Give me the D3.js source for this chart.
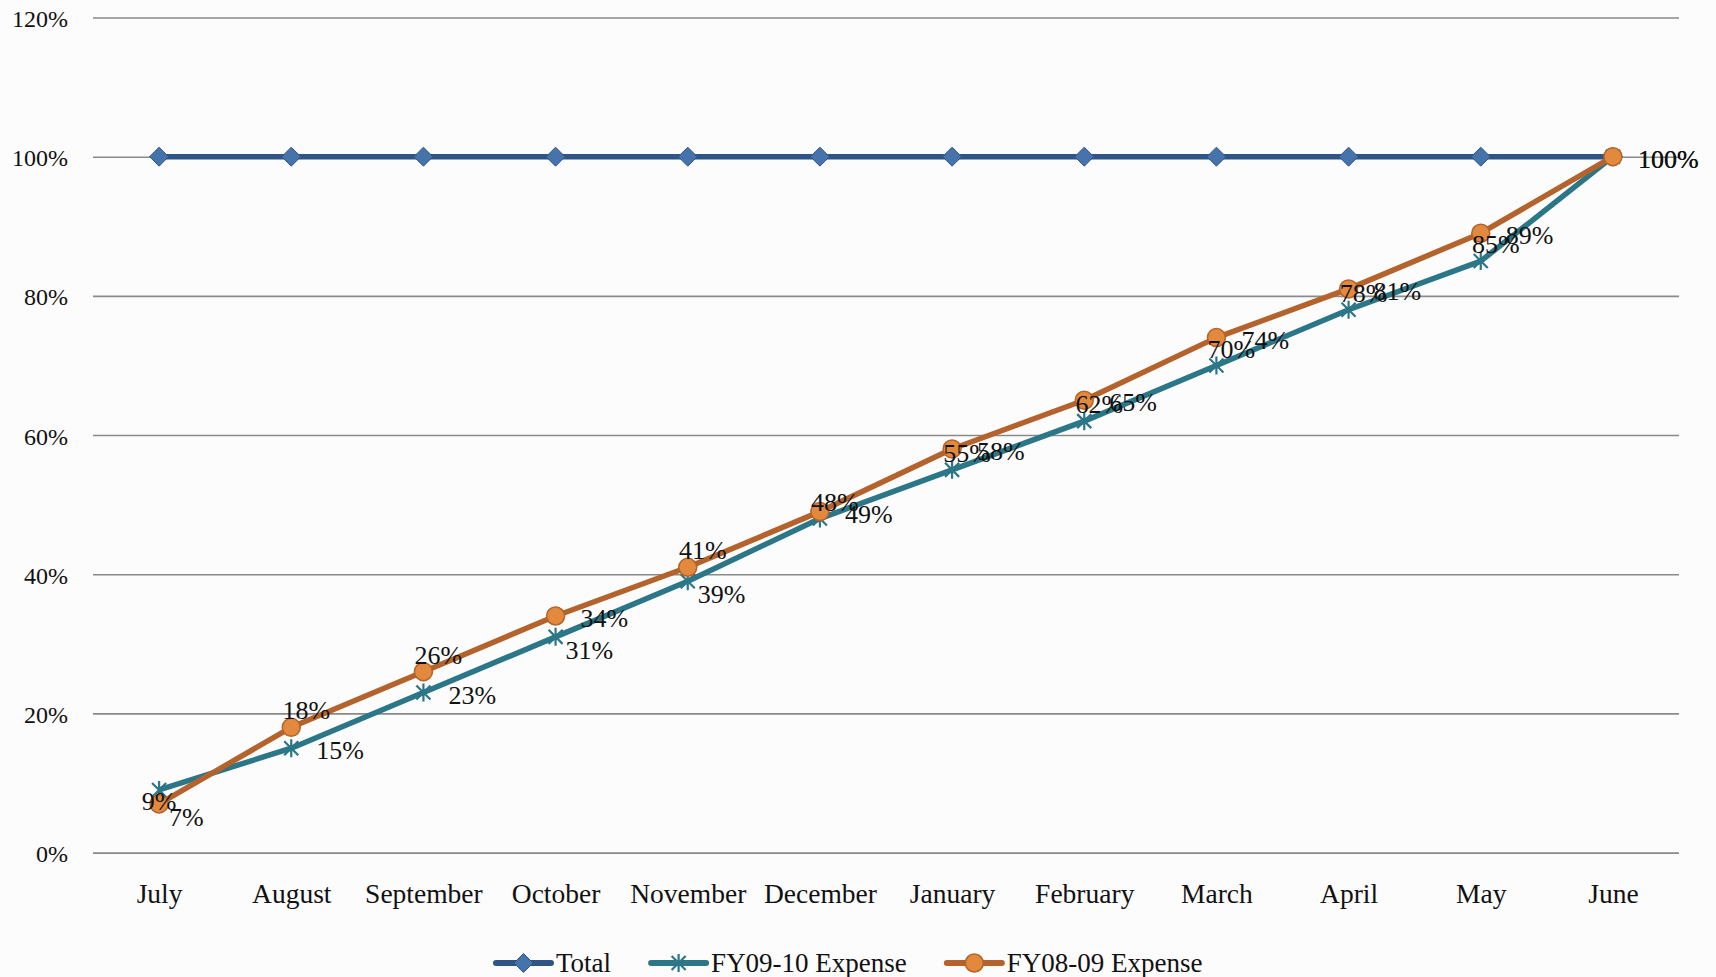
<!DOCTYPE html>
<html>
<head>
<meta charset="utf-8">
<script src="https://cdn.jsdelivr.net/npm/d3@7"></script>
<style>
  html, body { margin: 0; padding: 0; background: #fcfcfc; }
  svg { display: block; font-family: "Liberation Serif", "DejaVu Serif", serif; }
</style>
</head>
<body>
<svg id="chart" width="1716" height="977"></svg>
<script>
// Months of the fiscal year
const months = ["July", "August", "September", "October", "November", "December",
                "January", "February", "March", "April", "May", "June"];

// Cumulative share of the annual budget, in percent
const totalPct  = [100, 100, 100, 100, 100, 100, 100, 100, 100, 100, 100, 100];
const fy0910Pct = [9, 15, 23, 31, 39, 48, 55, 62, 70, 78, 85, 100];
const fy0809Pct = [7, 18, 26, 34, 41, 49, 58, 65, 74, 81, 89, 100];

// Value axis ticks
const yTicks = [0, 20, 40, 60, 80, 100, 120];

// Which side of each point its value label sits on
const fy0910LabelSide = ["below", "right", "right", "belowRight", "belowRight", "above",
                         "above", "above", "above", "above", "above", "right"];
const fy0809LabelSide = ["belowRight", "above", "above", "right", "above", "right",
                         "right", "right", "right", "right", "right", "right"];

const legendNames = ["Total", "FY09-10 Expense", "FY08-09 Expense"];

const svg = d3.select("#chart");
const plot = { left: 93, right: 1679, top: 17.5, bottom: 852.6 };

const x = d3.scalePoint().domain(months).range([plot.left, plot.right]).padding(0.5);
const y = d3.scaleLinear().domain([0, 120]).range([plot.bottom, plot.top]);

// Horizontal gridlines with percent labels
const yAxis = svg.append("g")
  .attr("transform", `translate(${plot.left},0)`)
  .call(d3.axisLeft(y).tickValues(yTicks)
        .tickSize(-(plot.right - plot.left)).tickPadding(25)
        .tickFormat(d => d + "%"));
yAxis.select(".domain").remove();
yAxis.selectAll(".tick line").attr("stroke", "#8a8a8a").attr("stroke-width", 1.6);
yAxis.selectAll(".tick text").attr("font-size", 24).attr("fill", "#111")
  .attr("font-family", "Liberation Serif").attr("dy", "0.38em");

// Month labels
const xAxis = svg.append("g")
  .attr("transform", `translate(0,${plot.bottom})`)
  .call(d3.axisBottom(x).tickSize(0).tickPadding(31));
xAxis.select(".domain").remove();
xAxis.selectAll(".tick text").attr("font-size", 27.5).attr("fill", "#111")
  .attr("font-family", "Liberation Serif");

// Marker shapes
const diamondPath = r => `M0,${-r}L${r},0L0,${r}L${-r},0Z`;
const starPath = r => {
  const d = r * 0.78;
  return `M0,${-r}L0,${r}M${-d},${-d}L${d},${d}M${-d},${d}L${d},${-d}`;
};

const series = [
  { name: legendNames[0], values: totalPct, line: "#2f5586", marker: "diamond",
    fill: "#4673ab", stroke: "#2f5586" },
  { name: legendNames[1], values: fy0910Pct, line: "#2b7687", marker: "star",
    fill: "none", stroke: "#2b7687", labels: fy0910LabelSide },
  { name: legendNames[2], values: fy0809Pct, line: "#b3632b", marker: "circle",
    fill: "#e2893d", stroke: "#b3632b", labels: fy0809LabelSide }
];

function drawMarker(g, s, cx, cy) {
  if (s.marker === "diamond") {
    g.append("path").attr("d", diamondPath(9.5))
      .attr("transform", `translate(${cx},${cy})`)
      .attr("fill", s.fill).attr("stroke", s.stroke).attr("stroke-width", 1);
  } else if (s.marker === "star") {
    g.append("path").attr("d", starPath(9))
      .attr("transform", `translate(${cx},${cy})`)
      .attr("fill", "none").attr("stroke", s.stroke).attr("stroke-width", 2.2);
  } else {
    g.append("circle").attr("cx", cx).attr("cy", cy).attr("r", 9)
      .attr("fill", s.fill).attr("stroke", s.stroke).attr("stroke-width", 1.5);
  }
}

const line = d3.line().x((d, i) => x(months[i])).y(d => y(d));

series.forEach(s => {
  const g = svg.append("g");
  g.append("path").datum(s.values).attr("d", line)
    .attr("fill", "none").attr("stroke", s.line).attr("stroke-width", 5.5)
    .attr("stroke-linejoin", "round");
  s.values.forEach((v, i) => drawMarker(g, s, x(months[i]), y(v)));
});

// Value labels
const labelLayer = svg.append("g").attr("font-size", 26).attr("fill", "#111");
series.filter(s => s.labels).forEach(s => {
  s.values.forEach((v, i) => {
    const px = x(months[i]), py = y(v);
    const side = s.labels[i];
    const t = labelLayer.append("text").text(v + "%").attr("dy", "0.35em");
    if (side === "right") {
      t.attr("x", px + 25).attr("y", py + 2).attr("text-anchor", "start");
    } else if (side === "above") {
      t.attr("x", px + 15).attr("y", py - 17).attr("text-anchor", "middle");
    } else if (side === "belowRight") {
      t.attr("x", px + 10).attr("y", py + 13).attr("text-anchor", "start");
    } else {
      t.attr("x", px).attr("y", py + 11).attr("text-anchor", "middle");
    }
  });
});

// Legend
const legend = svg.append("g");
let lx = 496;
const ly = 963;
series.forEach(s => {
  const item = legend.append("g");
  item.append("line").attr("x1", lx).attr("x2", lx + 55).attr("y1", ly).attr("y2", ly)
    .attr("stroke", s.line).attr("stroke-width", 6).attr("stroke-linecap", "round");
  drawMarker(item, s, lx + 27.5, ly);
  const txt = item.append("text").attr("x", lx + 60).attr("y", ly).attr("dy", "0.35em")
    .attr("font-size", 27).attr("fill", "#111").text(s.name);
  lx += 60 + txt.node().getComputedTextLength() + 40;
});
</script>
</body>
</html>
